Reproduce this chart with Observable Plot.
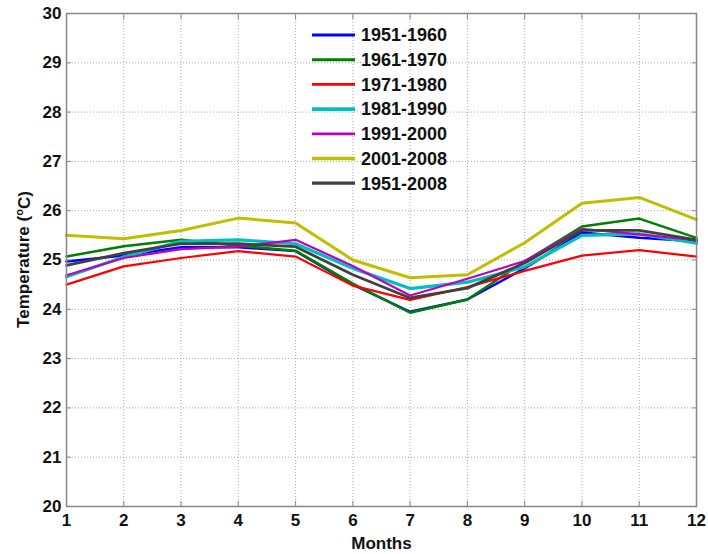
<!DOCTYPE html>
<html>
<head>
<meta charset="utf-8">
<script src="https://cdn.jsdelivr.net/npm/d3@7"></script>
<script src="https://cdn.jsdelivr.net/npm/@observablehq/plot@0.6"></script>
<style>
  html, body { margin: 0; padding: 0; background: #fff; }
  #chart { width: 708px; height: 554px; }
</style>
</head>
<body>
<div id="chart"></div>
<script>
// ---- data ----
const months = [1, 2, 3, 4, 5, 6, 7, 8, 9, 10, 11, 12];
const yTicks = [20, 21, 22, 23, 24, 25, 26, 27, 28, 29, 30];
const periods = ["1951-1960", "1961-1970", "1971-1980", "1981-1990", "1991-2000", "2001-2008", "1951-2008"];
const t1951_1960 = [24.97, 25.09, 25.26, 25.26, 25.18, 24.50, 23.95, 24.20, 24.83, 25.56, 25.45, 25.38];
const t1961_1970 = [25.07, 25.28, 25.41, 25.29, 25.19, 24.52, 23.93, 24.20, 24.97, 25.68, 25.84, 25.45];
const t1971_1980 = [24.50, 24.87, 25.04, 25.18, 25.07, 24.48, 24.19, 24.45, 24.78, 25.09, 25.20, 25.07];
const t1981_1990 = [24.66, 25.06, 25.38, 25.41, 25.33, 24.83, 24.42, 24.55, 24.86, 25.50, 25.53, 25.34];
const t1991_2000 = [24.69, 25.04, 25.22, 25.27, 25.41, 24.88, 24.28, 24.62, 24.98, 25.63, 25.52, 25.40];
const t2001_2008 = [25.50, 25.43, 25.60, 25.85, 25.75, 25.00, 24.64, 24.70, 25.35, 26.15, 26.27, 25.82];
const t1951_2008 = [24.89, 25.14, 25.33, 25.33, 25.27, 24.70, 24.23, 24.43, 24.94, 25.60, 25.60, 25.41];
const seriesValues = [t1951_1960, t1961_1970, t1971_1980, t1981_1990, t1991_2000, t2001_2008, t1951_2008];

// ---- styles ----
const colors = ["#0000ff", "#008000", "#ff0000", "#00bfbf", "#bf00bf", "#bfbf00", "#404040"];
const widths = [2.5, 2.5, 2.2, 3.2, 2.2, 3, 2.8];

const rows = [];
periods.forEach((p, i) => months.forEach((m, j) => rows.push({period: p, month: m, temp: seriesValues[i][j]})));

const W = 708, H = 554;
const mL = 66, mR = 12, mT = 13, mB = 48;
const font = "'Liberation Sans', Arial, Helvetica, sans-serif";
const gridStyle = {stroke: "#aaa", strokeOpacity: 1, strokeDasharray: "1,2", strokeWidth: 1};

const plot = Plot.plot({
  width: W,
  height: H,
  marginLeft: mL, marginRight: mR, marginTop: mT, marginBottom: mB,
  style: {fontFamily: font, fontWeight: "bold", fontSize: "17px", color: "#111", background: "#fff"},
  x: {domain: [1, 12], ticks: months},
  y: {domain: [20, 30], ticks: yTicks},
  marks: [
    Plot.gridX(months, gridStyle),
    Plot.gridY(yTicks, gridStyle),
    ...periods.map((p, i) => Plot.line(rows.filter(d => d.period === p), {
      x: "month", y: "temp", stroke: colors[i], strokeWidth: widths[i], strokeLinejoin: "round"
    })),
    Plot.frame({stroke: "#888", strokeWidth: 1.5}),
    Plot.axisX(months, {anchor: "bottom", tickSize: -5, text: null, label: null, stroke: "#888"}),
    Plot.axisX(months, {anchor: "top", tickSize: -5, text: null, label: null, stroke: "#888"}),
    Plot.axisY(yTicks, {anchor: "left", tickSize: -5, text: null, label: null, stroke: "#888"}),
    Plot.axisY(yTicks, {anchor: "right", tickSize: -5, text: null, label: null, stroke: "#888"}),
    Plot.axisX(months, {anchor: "bottom", tickSize: 0, tickPadding: 7, label: "Months", labelAnchor: "center", labelArrow: "none", labelOffset: 42, fill: "#111"}),
    Plot.axisY(yTicks, {anchor: "left", tickSize: 0, tickPadding: 5, label: null, fill: "#111"})
  ]
});

document.getElementById("chart").appendChild(plot);

// y axis label with superscript
const svg = d3.select(plot);
const yl = svg.append("text")
  .attr("transform", `translate(23,${(mT + H - mB) / 2}) rotate(-90)`)
  .attr("text-anchor", "middle")
  .attr("dy", "0.35em")
  .attr("font-family", font)
  .attr("font-weight", "bold")
  .attr("font-size", 17)
  .attr("fill", "#111");
yl.append("tspan").text("Temperature (");
yl.append("tspan").attr("font-size", 11).attr("dy", "-0.55em").text("o");
yl.append("tspan").attr("dy", "0.4em").text("C)");

// legend
const lg = svg.append("g").attr("text-anchor", "start");
const lx0 = 312, lx1 = 355, ly0 = 35, ldy = 24.7;
periods.forEach((p, i) => {
  const y = ly0 + i * ldy;
  lg.append("line").attr("x1", lx0).attr("x2", lx1).attr("y1", y).attr("y2", y)
    .attr("stroke", colors[i]).attr("stroke-width", widths[i] + 0.5);
  lg.append("text").attr("x", lx1 + 6).attr("y", y).attr("dy", "0.35em")
    .attr("text-anchor", "start")
    .attr("font-family", font).attr("font-weight", "bold").attr("font-size", 18)
    .attr("fill", "#111").text(p);
});
</script>
</body>
</html>
